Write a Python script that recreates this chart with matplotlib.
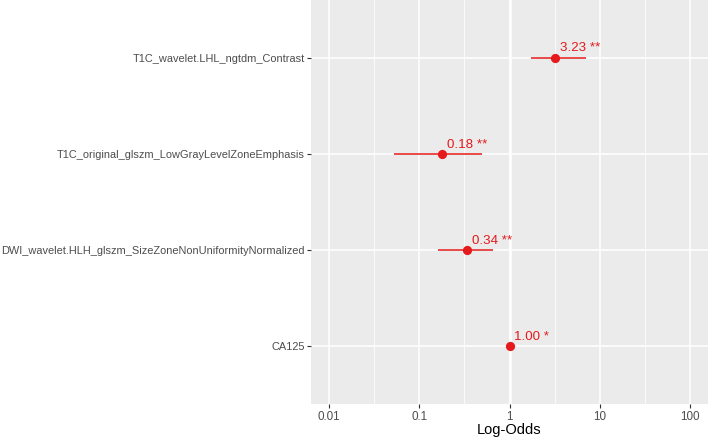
import numpy as np
import matplotlib
matplotlib.use("Agg")
import matplotlib.pyplot as plt
from matplotlib.ticker import FixedLocator, NullFormatter

features = [
    "T1C_wavelet.LHL_ngtdm_Contrast",
    "T1C_original_glszm_LowGrayLevelZoneEmphasis",
    "DWI_wavelet.HLH_glszm_SizeZoneNonUniformityNormalized",
    "CA125",
]
odds = [3.23, 0.18, 0.34, 1.00]
ci_low = [1.71, 0.052, 0.16, 0.99]
ci_high = [7.08, 0.49, 0.65, 1.01]
stars = ["**", "**", "**", "*"]

x_ticks = [0.01, 0.1, 1, 10, 100]
x_tick_labels = ["0.01", "0.1", "1", "10", "100"]

RED = "#E41A1C"
plt.rcParams["font.family"] = ["Liberation Sans", "DejaVu Sans"]

fig = plt.figure(figsize=(7.08, 4.38), dpi=100)
ax = fig.add_axes([311 / 708, 34 / 438, 397 / 708, 404 / 438])
ax.set_facecolor("#EBEBEB")

# top row first, like ggplot's discrete axis
ypos = np.arange(len(features))[::-1] + 1

ax.set_xscale("log")
ax.set_xlim(10 ** -2.2, 10 ** 2.2)
ax.set_ylim(0.4, len(features) + 0.6)

# grid like theme_grey
minor = [10 ** (k + 0.5) for k in range(-3, 3)]
for m in minor:
    ax.axvline(m, color="white", lw=0.55, zorder=0)
for t in x_ticks:
    ax.axvline(t, color="white", lw=1.1, zorder=0)
for y in ypos:
    ax.axhline(y, color="white", lw=1.1, zorder=0)
ax.axvline(1, color="white", lw=1.8, zorder=1)

ax.hlines(ypos, ci_low, ci_high, color=RED, lw=1.1, zorder=2)
ax.scatter(odds, ypos, s=44, color=RED, zorder=3, linewidths=0)

for x, y, s in zip(odds, ypos, stars):
    ax.annotate(f"{x:.2f} {s}", (x, y), xytext=(3.6, 4.5), textcoords="offset points",
                color=RED, fontsize=9.6, ha="left", va="baseline")

ax.xaxis.set_major_locator(FixedLocator(x_ticks))
ax.xaxis.set_minor_locator(FixedLocator([]))
ax.xaxis.set_minor_formatter(NullFormatter())
ax.set_xticklabels(x_tick_labels)
ax.set_yticks(ypos)
ax.set_yticklabels(features)

ax.tick_params(axis="both", which="major", length=2.8, width=0.8, color="#333333",
               labelcolor="#4D4D4D", labelsize=8.4, pad=2)
ax.tick_params(axis="y", labelsize=7.95, pad=1.6)
for sp in ax.spines.values():
    sp.set_visible(False)

ax.set_xlabel("Log-Odds", fontsize=10.5, color="black", labelpad=0.5)

fig.savefig("out.png", dpi=100)
